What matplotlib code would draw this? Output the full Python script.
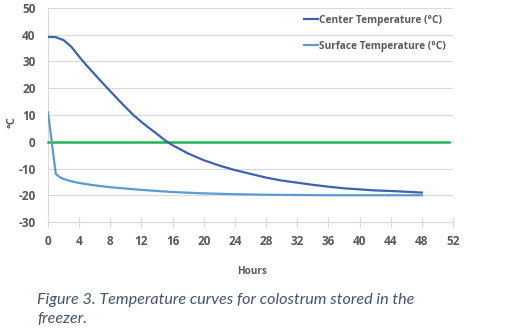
import matplotlib
matplotlib.use("Agg")
import matplotlib.pyplot as plt

plt.rcParams["axes.unicode_minus"] = False

# hours since the colostrum went into the freezer
center_hours = [0, 1, 2, 3, 4, 5, 6, 7, 8, 9, 10, 11, 12, 13, 14, 15, 16, 18, 20,
                22, 24, 26, 28, 30, 32, 34, 36, 38, 40, 42, 44, 46, 48]
center_temp = [39.2, 39.1, 38.0, 35.5, 31.8, 28.4, 25.2, 22.0, 18.9, 15.8, 12.8,
               9.9, 7.4, 5.1, 2.9, 0.6, -1.3, -4.4, -6.9, -8.9, -10.6, -12.0,
               -13.4, -14.5, -15.3, -16.1, -16.8, -17.4, -17.8, -18.2, -18.4,
               -18.7, -19.0]

surface_hours = [0, 0.5, 1, 1.5, 2, 3, 4, 5, 6, 8, 10, 12, 14, 16, 20, 24, 28,
                 32, 36, 40, 44, 48]
surface_temp = [11.0, -0.5, -12.0, -13.2, -13.9, -14.8, -15.4, -15.9, -16.3,
                -17.0, -17.5, -18.0, -18.4, -18.8, -19.3, -19.6, -19.8, -19.9,
                -20.0, -20.0, -20.0, -20.0]

zero_hours = [0, 51.5]
zero_temp = [0, 0]

x_ticks = list(range(0, 53, 4))
y_ticks = list(range(-30, 51, 10))

label_gray = "#595959"
grid_gray = "#D9D9D9"
font = "Open Sans"

fig = plt.figure(figsize=(5.06, 3.36), dpi=100)
ax = fig.add_axes([48 / 506, 1 - 222 / 336, 405 / 506, 214 / 336])

ax.plot(center_hours, center_temp, color="#3F62AE", lw=1.6,
        label="Center Temperature (°C)", zorder=4)
ax.plot(surface_hours, surface_temp, color="#5B9BD5", lw=1.6,
        label="Surface Temperature (°C)", zorder=4)
ax.plot(zero_hours, zero_temp, color="#1DB954", lw=1.8, zorder=3,
        clip_on=False)

ax.set_xlim(0, 52)
ax.set_ylim(-30, 50)
ax.set_xticks(x_ticks)
ax.set_yticks(y_ticks)

for y in y_ticks[1:]:
    ax.axhline(y, color=grid_gray, lw=0.8, zorder=1)

for side in ["top", "right"]:
    ax.spines[side].set_visible(False)
ax.spines["left"].set_color(grid_gray)
ax.spines["bottom"].set_color(grid_gray)
ax.spines["left"].set_linewidth(0.8)
ax.spines["bottom"].set_linewidth(0.8)

ax.tick_params(axis="x", direction="inout", length=7, width=0.8,
               color=grid_gray, pad=6)
ax.tick_params(axis="y", length=0, pad=9)
for lab in ax.get_xticklabels() + ax.get_yticklabels():
    lab.set_fontfamily(font)
    lab.set_fontweight("bold")
    lab.set_fontsize(8.5)
    lab.set_color(label_gray)

# axis titles placed directly in figure pixels
fig.text(12 / 506, 1 - 122 / 336, "°C", rotation=90, family=font,
         fontweight="bold", fontsize=8, color=label_gray,
         ha="center", va="center")
fig.text(252 / 506, 1 - 271 / 336, "Hours", family=font, fontweight="bold",
         fontsize=7.2, color=label_gray, ha="center", va="center")

leg = ax.legend(loc="upper right", bbox_to_anchor=(446 / 506, 1 - 15 / 336),
                bbox_transform=fig.transFigure, frameon=False,
                handlelength=1.4, handletextpad=0.1, labelspacing=1.45,
                borderpad=0, borderaxespad=0,
                prop={"family": font, "weight": "bold", "size": 7.3})
for t in leg.get_texts():
    t.set_color(label_gray)

caption_color = "#44546A"
fig.text(37 / 506, 1 - 304 / 336,
         "Figure 3. Temperature curves for colostrum stored in the",
         family="Lato", style="italic", fontsize=11.6, color=caption_color,
         va="baseline")
fig.text(37 / 506, 1 - 323 / 336, "freezer.",
         family="Lato", style="italic", fontsize=11.6, color=caption_color,
         va="baseline")

fig.savefig("out.png", dpi=100)
